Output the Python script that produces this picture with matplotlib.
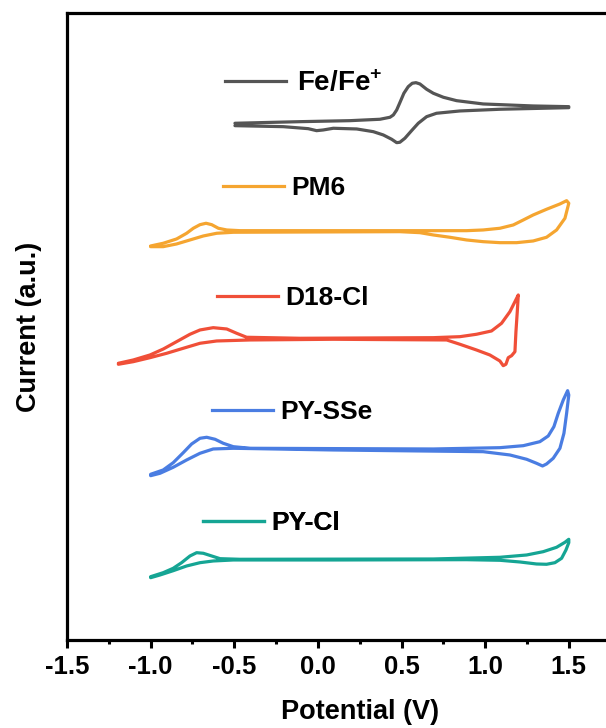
import numpy as np
import matplotlib.pyplot as plt
from matplotlib.lines import Line2D

plt.rcParams['font.family'] = ['Liberation Sans', 'DejaVu Sans']
plt.rcParams['font.weight'] = 'bold'
plt.rcParams['mathtext.fontset'] = 'custom'
plt.rcParams['mathtext.rm'] = 'Liberation Sans:bold'
plt.rcParams['mathtext.bf'] = 'Liberation Sans:bold'

# CV loops: forward (upper) branch then return (lower) branch; current in a.u., curves stacked with offsets
fe_up_E = [-0.496, -0.107, 0.192, 0.371, 0.431, 0.451, 0.471, 0.490, 0.514, 0.540, 0.564, 0.586, 0.610,
           0.650, 0.690, 0.750, 0.829, 0.988, 1.287, 1.50]
fe_up_I = [516.7, 518.3, 519.3, 520.7, 522.7, 525, 530, 537.3, 546.7, 553.3, 556.7, 557.3, 556,
           550.7, 546.7, 542.7, 539.3, 536, 534, 533.3]
fe_dn_E = [1.50, 1.088, 0.849, 0.709, 0.650, 0.600, 0.560, 0.520, 0.490, 0.471, 0.441, 0.391, 0.331,
           0.232, 0.092, 0.032, -0.008, -0.058, -0.207, -0.496]
fe_dn_I = [532.3, 530.7, 529, 526.7, 523.3, 516.7, 509.3, 501.7, 497.7, 497.3, 500.7, 505, 508.3,
           511, 511.7, 510, 509.3, 511.3, 513.3, 514.3]

pm6_up_E = [-1.0, -0.925, -0.845, -0.785, -0.745, -0.705, -0.669, -0.635, -0.595, -0.545, -0.466,
            0.490, 0.889, 0.988, 1.088, 1.168, 1.228, 1.287, 1.367, 1.447, 1.487]
pm6_up_I = [394, 396.7, 401, 406.7, 411.7, 415.3, 416.7, 415.3, 411.7, 410, 409.3,
            409.3, 409.3, 410, 411.7, 415, 420, 425, 430.7, 436, 439.3]
pm6_dn_E = [1.50, 1.477, 1.427, 1.367, 1.287, 1.188, 1.088, 0.988, 0.889, 0.789, 0.690, 0.610, 0.490,
            -0.506, -0.605, -0.685, -0.765, -0.845, -0.925, -1.0]
pm6_dn_I = [436.7, 421.7, 410, 402.7, 399, 397.3, 397.3, 398.3, 400, 402.7, 405, 407.3, 408.3,
            407.7, 406.7, 404, 400, 396, 393.3, 393.3]

d18_up_E = [-1.193, -1.104, -1.004, -0.924, -0.845, -0.765, -0.705, -0.626, -0.545, -0.486, -0.426, -0.107,
            0.690, 0.849, 0.948, 1.038, 1.098, 1.148, 1.178, 1.198]
d18_up_I = [276.7, 280, 285, 291, 298.3, 305.7, 310, 312.3, 311, 306.7, 302.7, 301.7,
            302.3, 303.3, 305.7, 309, 316.7, 328.3, 338.3, 345]
d18_dn_E = [1.192, 1.184, 1.178, 1.158, 1.138, 1.124, 1.108, 1.088, 1.028, 0.948, 0.849, 0.770, 0.092,
            -0.406, -0.605, -0.705, -0.805, -0.904, -1.004, -1.104, -1.193]
d18_dn_I = [328.3, 308.3, 288.3, 284.3, 282.3, 275.7, 274.3, 279, 285, 290, 295.7, 300, 300.7,
            300, 299, 296.7, 291.7, 286.7, 282.3, 278.3, 275.7]

sse_up_E = [-1.0, -0.925, -0.865, -0.805, -0.755, -0.705, -0.665, -0.615, -0.566, -0.506, -0.406,
            0.690, 1.088, 1.228, 1.327, 1.377, 1.411, 1.437, 1.467, 1.493]
sse_up_I = [165.7, 170, 177.3, 187.3, 196, 201.7, 202.7, 200.7, 196.7, 193.3, 191.7,
            191, 192.3, 194.3, 198.3, 204, 213.3, 226.7, 240, 249.3]
sse_dn_E = [1.50, 1.487, 1.471, 1.447, 1.407, 1.367, 1.343, 1.307, 1.248, 1.148, 0.988, 0.092,
            -0.506, -0.626, -0.705, -0.785, -0.865, -0.944, -1.0]
sse_dn_I = [245, 226.7, 206.7, 191.7, 181.7, 176, 174, 176.7, 180.7, 185, 188.3, 190,
            191.7, 191, 186.7, 180, 172.7, 166.7, 164.3]

pycl_up_E = [-1.0, -0.925, -0.865, -0.815, -0.765, -0.725, -0.685, -0.635, -0.585, -0.466,
             0.690, 1.088, 1.248, 1.347, 1.427, 1.477, 1.50]
pycl_up_I = [63.3, 67.3, 71.7, 77.3, 84, 87.3, 86.7, 84, 81.3, 80.7,
             81, 82.7, 85, 88.3, 92.7, 97.7, 100.7]
pycl_dn_E = [1.50, 1.483, 1.457, 1.417, 1.367, 1.307, 1.208, 1.088, 0.889, 0.092,
             -0.506, -0.626, -0.705, -0.785, -0.865, -0.944, -1.0]
pycl_dn_I = [97.3, 90, 81.7, 77.3, 75.7, 76, 78, 79.7, 80.3, 80,
             80, 79, 77.3, 74, 69.3, 65, 62.3]

names = ['Fe/Fe$^{+}$', 'PM6', 'D18-Cl', 'PY-SSe', 'PY-Cl']
colors = ['#555555', '#F5A530', '#F04F38', '#4A7DE2', '#15A594']
curves = [
    (fe_up_E + fe_dn_E, fe_up_I + fe_dn_I),
    (pm6_up_E + pm6_dn_E, pm6_up_I + pm6_dn_I),
    (d18_up_E + d18_dn_E, d18_up_I + d18_dn_I),
    (sse_up_E + sse_dn_E, sse_up_I + sse_dn_I),
    (pycl_up_E + pycl_dn_E, pycl_up_I + pycl_dn_I),
]
# where each curve's key sits (E, I), with its font size
key_pos = [(-0.556, 557), (-0.567, 452), (-0.603, 342), (-0.633, 228), (-0.687, 117)]
key_size = [20, 19, 19, 19, 19]

fig = plt.figure(figsize=(6.06, 7.28), dpi=100)
ax = fig.add_axes([0.1106, 0.1209, 0.966, 0.8613])

for (E, I), c in zip(curves, colors):
    ax.plot(E, I, color=c, lw=2.3, solid_joinstyle='round', solid_capstyle='round')

for name, c, pos, fs in zip(names, colors, key_pos, key_size):
    px = fs * 100 / 72
    h = Line2D([], [], color=c, lw=2.3)
    leg = ax.legend([h], [name], loc='center left', bbox_to_anchor=pos,
                    bbox_transform=ax.transData, frameon=False, borderpad=0,
                    borderaxespad=0, handlelength=61 / px,
                    handletextpad=(11 if fs == 20 else 7) / px,
                    prop={'size': fs, 'weight': 'bold'})
    ax.add_artist(leg)

ax.set_xlim(-1.5, 2.0)
ax.set_ylim(0, 627)
ax.set_xticks([-1.5, -1.0, -0.5, 0.0, 0.5, 1.0, 1.5])
ax.set_xticklabels(['-1.5', '-1.0', '-0.5', '0.0', '0.5', '1.0', '1.5'])
ax.set_xticks(np.arange(-1.25, 2.0, 0.5), minor=True)
ax.set_yticks([])
ax.tick_params(axis='x', which='major', direction='out', length=6, width=2.2, labelsize=18.5, pad=5)
ax.tick_params(axis='x', which='minor', direction='out', length=3, width=2.2)
for s in ax.spines.values():
    s.set_linewidth(2.3)

ax.set_xlabel('Potential (V)', fontsize=19.5, fontweight='bold', labelpad=14)
ax.set_ylabel('Current (a.u.)', fontsize=19.5, fontweight='bold', labelpad=18)

fig.savefig('out.png', dpi=100)
